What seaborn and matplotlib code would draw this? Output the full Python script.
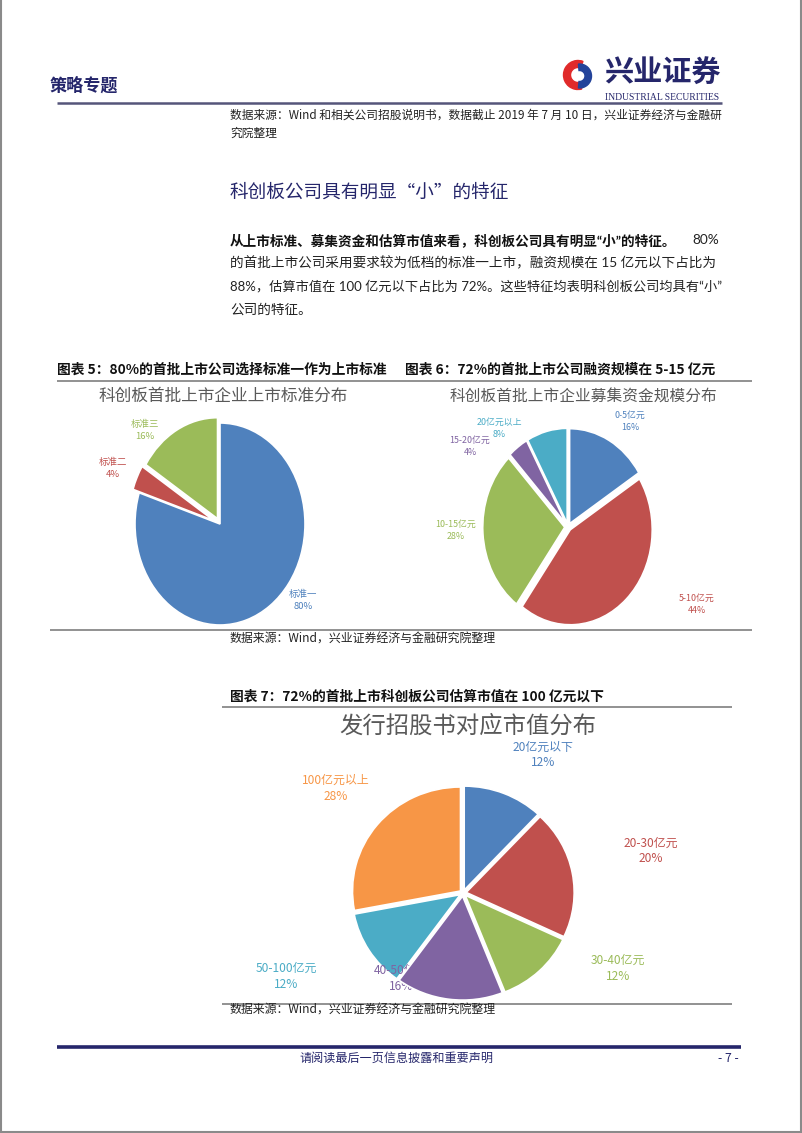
import numpy as np
import matplotlib
matplotlib.use('Agg')
import matplotlib.pyplot as plt
import seaborn as sns
from matplotlib.lines import Line2D
from matplotlib.patches import Wedge

W, H = 802, 1133

# ---------------- data ----------------
std_labels = ['标准一', '标准二', '标准三']
std_values = [80, 4, 16]

fund_labels = ['0-5亿元', '5-10亿元', '10-15亿元', '15-20亿元', '20亿元以上']
fund_values = [16, 44, 28, 4, 8]

mv_labels = ['20亿元以下', '20-30亿元', '30-40亿元', '40-50亿元', '50-100亿元', '100亿元以上']
mv_values = [12, 20, 12, 16, 12, 28]

# ---------------- style ----------------
sns.set_theme(style='white')
plt.rcParams['font.family'] = ['Noto Sans CJK SC', 'DejaVu Sans']
PARA_FAMILY = ['Lato', 'Noto Sans CJK SC', 'DejaVu Sans']

BLUE, RED, GREEN, PURPLE, CYAN, ORANGE = '#4F81BD', '#C0504D', '#9BBB59', '#8064A2', '#4BACC6', '#F79646'
NAVY = '#25266b'
GREY_T = '#595959'

fig = plt.figure(figsize=(W / 100, H / 100), dpi=100)
fig.patch.set_facecolor('white')


def fx(x):
    return x / W


def fy(y):
    return 1 - y / H


def ftext(x, y, s, size, color='#222222', weight='normal', ha='left', va='center', **kw):
    return fig.text(fx(x), fy(y), s, fontsize=size, color=color, fontweight=weight,
                    ha=ha, va=va, **kw)


def hline(x0, x1, y, color, lw):
    fig.add_artist(Line2D([fx(x0), fx(x1)], [fy(y), fy(y)], transform=fig.transFigure,
                          color=color, lw=lw, solid_capstyle='butt'))


def vline(x, y0, y1, color, lw):
    fig.add_artist(Line2D([fx(x), fx(x)], [fy(y0), fy(y1)], transform=fig.transFigure,
                          color=color, lw=lw))


def draw_pie(values, colors, cx, cy, rx, ry, explode, lim=1.3):
    ax = fig.add_axes([fx(cx - lim * rx), fy(cy + lim * ry), 2 * lim * rx / W, 2 * lim * ry / H])
    wedges, _ = ax.pie(values, colors=colors, startangle=90, counterclock=False, explode=explode,
                       wedgeprops=dict(edgecolor='white', linewidth=1.2))
    ax.set_aspect('auto')
    ax.set_xlim(-lim, lim)
    ax.set_ylim(-lim, lim)
    ax.axis('off')
    return ax, wedges


def pie_label(ax, x, y, s, size, color, zorder=3, ls=1.45, weight='normal'):
    ax.text(fx(x), fy(y), s, transform=fig.transFigure, fontsize=size, color=color,
            ha='center', va='center', zorder=zorder, linespacing=ls, fontweight=weight,
            clip_on=False)


# ---------------- page frame ----------------
vline(0.8, 0, 1133, '#8a8a8a', 1.5)
vline(800.5, 0, 1133, '#8a8a8a', 1.5)
hline(0, 802, 1131.5, '#8a8a8a', 1.5)

# ---------------- header ----------------
ftext(50, 86, '策略专题', 12.3, color=NAVY, weight='bold')
axl = fig.add_axes([fx(578 - 20), fy(75 + 20), 40 / W, 40 / H])
axl.set_xlim(-20, 20)
axl.set_ylim(-20, 20)
axl.axis('off')
axl.add_patch(Wedge((0, 0), 14.5, 70, 285, width=7, color='#e02a2a'))
axl.add_patch(Wedge((1.5, -1), 12, -95, 95, width=6.5, color='#23439a'))
ftext(662, 73, '兴业证券', 21, color=NAVY, weight='bold', ha='center')
ftext(662, 97, 'INDUSTRIAL SECURITIES', 6.9, color=NAVY, ha='center', family='Liberation Serif')
hline(57, 722, 103, '#55557a', 1.8)

ftext(230, 115, '数据来源：Wind 和相关公司招股说明书，数据截止 2019 年 7 月 10 日，兴业证券经济与金融研',
      8.45)
ftext(230, 133, '究院整理', 8.45)

# ---------------- section heading & paragraph ----------------
ftext(230, 193, '科创板公司具有明显“小”的特征', 13.4, color=NAVY, weight='medium')

ftext(230, 240, '从上市标准、募集资金和估算市值来看，科创板公司具有明显“小”的特征。', 9.8,
      color='#111111', weight='bold', family=PARA_FAMILY)
ftext(719, 240, '80%', 9.8, color='#222222', ha='right', family=PARA_FAMILY)
ftext(230, 263, '的首批上市公司采用要求较为低档的标准一上市，融资规模在 15 亿元以下占比为', 9.8,
      family=PARA_FAMILY)
ftext(230, 286, '88%，估算市值在 100 亿元以下占比为 72%。这些特征均表明科创板公司均具有“小”', 9.5,
      family=PARA_FAMILY)
ftext(230, 309, '公司的特征。', 9.8, family=PARA_FAMILY)

# ---------------- charts 5 & 6 ----------------
ftext(57, 370, '图表 5：80%的首批上市公司选择标准一作为上市标准', 9.9, color='#111111', weight='bold')
ftext(405, 370, '图表 6：72%的首批上市公司融资规模在 5-15 亿元', 9.9, color='#111111', weight='bold')
hline(57, 752, 381, '#7f7f7f', 1.2)

ftext(223, 396, '科创板首批上市企业上市标准分布', 12.0, color=GREY_T, ha='center')
ftext(583, 396, '科创板首批上市企业募集资金规模分布', 11.3, color=GREY_T, ha='center')

ax1, _ = draw_pie(std_values, [BLUE, RED, GREEN], 220, 524, 85, 101, [0, 0.08, 0.06])
label_pos1 = [(303, 600), (113, 468), (145, 430)]
for lab, v, c, (x, y) in zip(std_labels, std_values, [BLUE, RED, GREEN], label_pos1):
    pie_label(ax1, x, y, f'{lab}\n{v}%', 6.8, c)

ax2, _ = draw_pie(fund_values, [BLUE, RED, GREEN, PURPLE, CYAN], 568, 527, 82, 95, [0.04] * 5)
label_pos2 = [(630, 421), (697, 604), (456, 530), (470, 446), (499, 428)]
for lab, v, c, (x, y) in zip(fund_labels, fund_values, [BLUE, RED, GREEN, PURPLE, CYAN], label_pos2):
    pie_label(ax2, x, y, f'{lab}\n{v}%', 6.4, c)

hline(50, 752, 630, '#7f7f7f', 1.2)
ftext(230, 639, '数据来源：Wind，兴业证券经济与金融研究院整理', 8.6)

# ---------------- chart 7 ----------------
ftext(230, 697, '图表 7：72%的首批上市科创板公司估算市值在 100 亿元以下', 9.9, color='#111111', weight='bold')
hline(222, 732, 707, '#7f7f7f', 1.2)
ftext(468, 726, '发行招股书对应市值分布', 16.8, color=GREY_T, ha='center')

colors3 = [BLUE, RED, GREEN, PURPLE, CYAN, ORANGE]
ax3, wedges3 = draw_pie(mv_values, colors3, 463, 893, 108, 104, [0.03] * 6)
# the 40-50 label sits above the cyan slice but is partly hidden by the purple slice
wedges3[4].set_zorder(0.3)
label_pos3 = [(543, 755), (651, 851), (618, 968), (401, 978), (286, 976), (336, 788)]
for lab, v, c, (x, y) in zip(mv_labels, mv_values, colors3, label_pos3):
    z = 0.5 if lab == '40-50亿元' else 3
    pie_label(ax3, x, y, f'{lab}\n{v}%', 8.6, c, zorder=z, ls=1.3)

hline(222, 732, 1004, '#7f7f7f', 1.2)
ftext(230, 1010, '数据来源：Wind，兴业证券经济与金融研究院整理', 8.6)

# ---------------- footer ----------------
hline(57, 741, 1047, NAVY, 2.6)
ftext(396, 1058, '请阅读最后一页信息披露和重要声明', 8.7, color=NAVY, ha='center')
ftext(739, 1058, '- 7 -', 8.7, color=NAVY, ha='right')

fig.savefig('out.png', dpi=100, facecolor='white')
